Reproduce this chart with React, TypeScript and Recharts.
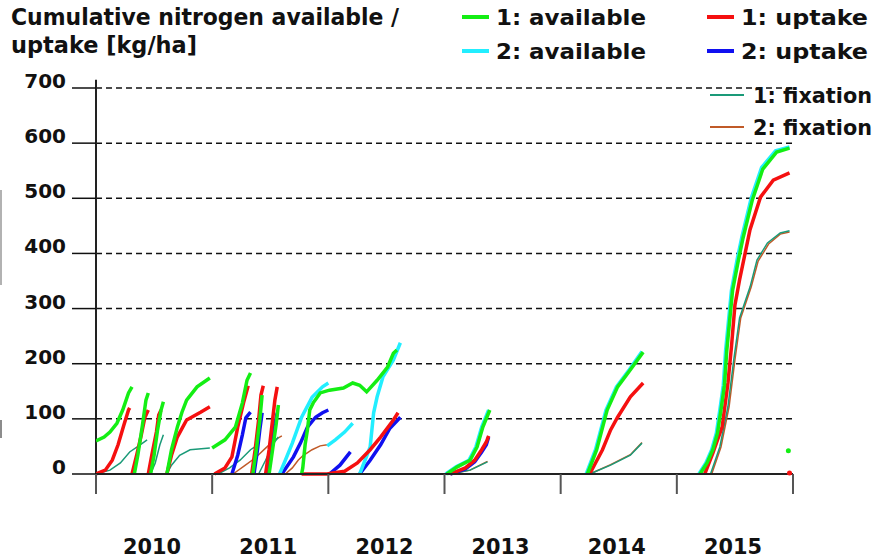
import React from 'react';
import { LineChart, Line, XAxis, YAxis, CartesianGrid, ReferenceLine } from 'recharts';

// each series is a list of segments, each segment a list of [year, kg/ha]
const avail1Segments: number[][][] = [
  [[2010.0, 60], [2010.07, 67], [2010.12, 76], [2010.18, 92], [2010.23, 116], [2010.28, 147], [2010.31, 158]],
  [[2010.33, 0], [2010.36, 34], [2010.4, 89], [2010.43, 134], [2010.45, 147]],
  [[2010.47, 0], [2010.5, 34], [2010.53, 80], [2010.56, 116], [2010.58, 131]],
  [[2010.61, 0], [2010.65, 44], [2010.7, 85], [2010.74, 112], [2010.78, 134], [2010.87, 158], [2010.98, 174]],
  [[2011.0, 47], [2011.11, 62], [2011.2, 85], [2011.26, 129], [2011.3, 170], [2011.33, 183]],
  [[2011.35, 0], [2011.38, 44], [2011.41, 98], [2011.43, 143]],
  [[2011.49, 0], [2011.52, 44], [2011.55, 89], [2011.57, 125]],
  [[2011.77, 0], [2011.78, 11], [2011.8, 53], [2011.82, 80], [2011.84, 116], [2011.87, 129], [2011.93, 147], [2012.01, 152],
    [2012.13, 156], [2012.21, 165], [2012.27, 161], [2012.33, 149], [2012.42, 170], [2012.51, 194], [2012.56, 219], [2012.59, 225]],
  [[2013.02, 0], [2013.11, 13], [2013.22, 25], [2013.28, 49], [2013.33, 85], [2013.39, 116]],
  [[2014.23, 0], [2014.31, 44], [2014.4, 116], [2014.49, 158], [2014.6, 189], [2014.71, 221]],
  [[2015.2, 0], [2015.26, 20], [2015.31, 44], [2015.35, 74], [2015.38, 116], [2015.41, 161], [2015.43, 224], [2015.48, 333],
    [2015.53, 388], [2015.57, 428], [2015.65, 497], [2015.74, 553], [2015.86, 584], [2015.97, 591]],
  [[2015.96, 42]],
];

const uptake1Segments: number[][][] = [
  [[2010.0, 0], [2010.08, 7], [2010.14, 25], [2010.19, 53], [2010.24, 89], [2010.28, 116], [2010.29, 120]],
  [[2010.31, 0], [2010.35, 34], [2010.39, 71], [2010.42, 102], [2010.45, 116]],
  [[2010.45, 0], [2010.48, 34], [2010.52, 76], [2010.54, 107], [2010.56, 116]],
  [[2010.61, 0], [2010.65, 34], [2010.7, 67], [2010.78, 98], [2010.9, 112], [2010.98, 122]],
  [[2011.02, 0], [2011.11, 11], [2011.17, 31], [2011.22, 85], [2011.27, 129], [2011.31, 160]],
  [[2011.34, 0], [2011.37, 44], [2011.4, 98], [2011.42, 143], [2011.44, 160]],
  [[2011.46, 0], [2011.49, 44], [2011.52, 98], [2011.54, 134], [2011.56, 158]],
  [[2011.77, 0], [2011.99, 0], [2012.04, 2], [2012.14, 5], [2012.25, 20], [2012.36, 44], [2012.45, 67], [2012.56, 98], [2012.6, 111]],
  [[2013.05, 0], [2013.18, 11], [2013.26, 25], [2013.32, 44], [2013.36, 58], [2013.38, 69]],
  [[2014.25, 0], [2014.36, 44], [2014.43, 80], [2014.49, 103], [2014.6, 140], [2014.71, 165]],
  [[2015.24, 0], [2015.31, 38], [2015.35, 62], [2015.39, 85], [2015.44, 165], [2015.47, 230], [2015.5, 306], [2015.54, 352],
    [2015.63, 443], [2015.72, 502], [2015.83, 533], [2015.97, 546]],
  [[2015.97, 2]],
];

const fix1Segments: number[][][] = [
  [[2010.0, 0], [2010.12, 7], [2010.21, 20], [2010.29, 40], [2010.38, 53], [2010.44, 62]],
  [[2010.47, 0], [2010.51, 20], [2010.55, 53], [2010.58, 71]],
  [[2010.61, 0], [2010.65, 16], [2010.72, 34], [2010.81, 44], [2010.98, 47]],
  [[2011.05, 0], [2011.15, 11], [2011.24, 25], [2011.33, 44], [2011.38, 51]],
  [[2011.4, 0], [2011.46, 25], [2011.52, 53], [2011.57, 67]],
  [[2013.05, 0], [2013.22, 7], [2013.37, 22]],
  [[2014.25, 0], [2014.43, 16], [2014.6, 34], [2014.7, 56]],
  [[2015.29, 0], [2015.37, 49], [2015.44, 122], [2015.49, 207], [2015.54, 283], [2015.63, 339], [2015.69, 388],
    [2015.78, 419], [2015.89, 437], [2015.97, 441]],
];

const avail2Segments: number[][][] = [
  [[2011.58, 0], [2011.63, 25], [2011.69, 56], [2011.77, 103], [2011.86, 139], [2011.95, 158], [2012.0, 165]],
  [[2011.99, 51], [2012.06, 62], [2012.14, 76], [2012.21, 92]],
  [[2012.27, 0], [2012.36, 49], [2012.39, 111], [2012.42, 140], [2012.47, 176], [2012.56, 207], [2012.62, 238]],
  [[2013.01, 0], [2013.1, 13], [2013.21, 25], [2013.27, 49], [2013.32, 85], [2013.38, 116]],
  [[2014.22, 0], [2014.3, 44], [2014.39, 116], [2014.48, 158], [2014.59, 189], [2014.7, 222]],
  [[2015.19, 0], [2015.25, 20], [2015.3, 44], [2015.34, 74], [2015.37, 116], [2015.4, 161], [2015.42, 224], [2015.47, 333],
    [2015.52, 390], [2015.56, 430], [2015.64, 500], [2015.73, 556], [2015.85, 586], [2015.97, 593]],
];

const uptake2Segments: number[][][] = [
  [[2011.17, 0], [2011.22, 34], [2011.26, 71], [2011.29, 102], [2011.33, 112]],
  [[2011.36, 0], [2011.39, 44], [2011.41, 80], [2011.43, 111]],
  [[2011.48, 0], [2011.51, 44], [2011.53, 80], [2011.56, 111]],
  [[2011.6, 0], [2011.7, 31], [2011.76, 56], [2011.82, 85], [2011.89, 103], [2011.95, 111], [2012.0, 116]],
  [[2012.01, 0], [2012.1, 16], [2012.19, 40]],
  [[2012.27, 0], [2012.36, 25], [2012.45, 53], [2012.53, 83], [2012.62, 103]],
  [[2013.05, 0], [2013.18, 9], [2013.26, 22], [2013.32, 40], [2013.36, 53], [2013.38, 67]],
];

const fix2Segments: number[][][] = [
  [[2011.18, 0], [2011.28, 15], [2011.37, 29], [2011.46, 47], [2011.54, 62], [2011.6, 69]],
  [[2011.63, 0], [2011.69, 11], [2011.74, 25], [2011.78, 33], [2011.86, 44], [2011.93, 51], [2011.99, 53]],
  [[2013.05, 0], [2013.22, 7], [2013.37, 23]],
  [[2014.25, 0], [2014.43, 17], [2014.6, 35], [2014.7, 57]],
  [[2015.3, 0], [2015.38, 49], [2015.45, 122], [2015.5, 207], [2015.55, 283], [2015.64, 339], [2015.7, 386],
    [2015.79, 417], [2015.89, 435], [2015.97, 439]],
];

const yTicks = [0, 100, 200, 300, 400, 500, 600, 700];
const yearTicks = [2010, 2011, 2012, 2013, 2014, 2015, 2016];
const yearMids = [2010.5, 2011.5, 2012.5, 2013.5, 2014.5, 2015.5];
const yearLabels = ['2010', '2011', '2012', '2013', '2014', '2015'];
const xTicks = [...yearTicks, ...yearMids].sort((a, b) => a - b);

const series = [
  { key: 'fix2', name: '2: fixation', color: '#c05a28', width: 1.5, segments: fix2Segments },
  { key: 'fix1', name: '1: fixation', color: '#1a9a78', width: 1.5, segments: fix1Segments },
  { key: 'up2', name: '2: uptake', color: '#1010f0', width: 3.5, segments: uptake2Segments },
  { key: 'av2', name: '2: available', color: '#22eeff', width: 3.5, segments: avail2Segments },
  { key: 'up1', name: '1: uptake', color: '#f51010', width: 3.5, segments: uptake1Segments },
  { key: 'av1', name: '1: available', color: '#14ee14', width: 3.5, segments: avail1Segments },
];

const FONT = "'DejaVu Sans Condensed', 'DejaVu Sans', sans-serif";

const renderYTick = (props: any) => {
  const { x, y, payload } = props;
  return (
    <text x={x} y={y} textAnchor="end" fontFamily="'DejaVu Sans', sans-serif" fontWeight="bold" fontSize={20} fill="#111">
      {payload.value}
    </text>
  );
};

// year boundaries get a tick mark, mid-year positions get the year label
const renderXTick = (props: any) => {
  const { x, y, payload } = props;
  const mid = yearMids.indexOf(payload.value);
  if (mid < 0) {
    return <line x1={x} x2={x} y1={y} y2={y + 20} stroke="#555" strokeWidth={2} />;
  }
  return (
    <text x={x - 2} y={y + 80} textAnchor="middle" fontFamily={FONT} fontWeight="bold" fontSize={22} fill="#111"
      textLength={58} lengthAdjust="spacingAndGlyphs">
      {yearLabels[mid]}
    </text>
  );
};

const legendItems = [
  { name: '1: available', color: '#14ee14', x1: 462, x2: 489, tx: 496, tw: 150, y: 17, w: 4 },
  { name: '2: available', color: '#22eeff', x1: 462, x2: 489, tx: 496, tw: 150, y: 51, w: 4 },
  { name: '1: uptake', color: '#f51010', x1: 707, x2: 734, tx: 741, tw: 127, y: 17, w: 4 },
  { name: '2: uptake', color: '#1010f0', x1: 707, x2: 734, tx: 741, tw: 127, y: 51, w: 4 },
  { name: '1: fixation', color: '#1a9a78', x1: 710, x2: 744, tx: 753, tw: 119, y: 95, w: 2 },
  { name: '2: fixation', color: '#c05a28', x1: 710, x2: 744, tx: 753, tw: 119, y: 127, w: 2 },
];

export default function App() {
  return (
    <div style={{ position: 'absolute', left: 0, top: 0, width: 891, height: 560, background: '#fff' }}>
      <LineChart width={891} height={560} margin={{ top: 88, right: 98, left: 0, bottom: 0 }}>
        <CartesianGrid vertical={false} stroke="#111" strokeWidth={1.5} strokeDasharray="6 4" />
        <XAxis dataKey="t" type="number" domain={[2010, 2016]} ticks={xTicks} allowDataOverflow interval={0}
          height={86} tickSize={0} tickMargin={0} tickLine={false}
          axisLine={{ stroke: '#222', strokeWidth: 2 }} tick={renderXTick} />
        <YAxis type="number" domain={[0, 700]} ticks={yTicks} width={96} tickSize={24} tickMargin={6} interval={0}
          axisLine={false} tickLine={{ stroke: '#111', strokeWidth: 1.5 }} tick={renderYTick} />
        <ReferenceLine segment={[{ x: 2010, y: -35 }, { x: 2010, y: 715 }]} ifOverflow="visible" stroke="#222" strokeWidth={2} />
        {series.map((s) =>
          s.segments.map((seg, i) => (
            <Line
              key={`${s.key}-${i}`}
              data={seg.map(([t, v]) => ({ t, v }))}
              dataKey="v"
              type="linear"
              stroke={s.color}
              strokeWidth={s.width}
              dot={seg.length === 1 ? { r: 2.5, fill: s.color, stroke: 'none' } : false}
              activeDot={false}
              isAnimationActive={false}
              legendType="none"
            />
          ))
        )}
      </LineChart>
      <svg width={891} height={560} style={{ position: 'absolute', left: 0, top: 0, pointerEvents: 'none' }}>
        <text x={11} y={25} fontFamily={FONT} fontWeight="bold" fontSize={23} fill="#111" textLength={388} lengthAdjust="spacingAndGlyphs">
          Cumulative nitrogen available /
        </text>
        <text x={11} y={53} fontFamily={FONT} fontWeight="bold" fontSize={23} fill="#111" textLength={186} lengthAdjust="spacingAndGlyphs">
          uptake [kg/ha]
        </text>
        {legendItems.map((it) => (
          <g key={it.name}>
            <line x1={it.x1} x2={it.x2} y1={it.y} y2={it.y} stroke={it.color} strokeWidth={it.w} />
            <text x={it.tx} y={it.y + 8} fontFamily={FONT} fontWeight="bold" fontSize={22} fill="#111"
              textLength={it.tw} lengthAdjust="spacingAndGlyphs">
              {it.name}
            </text>
          </g>
        ))}
        <line x1={1} x2={1} y1={190} y2={285} stroke="#999" strokeWidth={1.5} />
        <line x1={1} x2={1} y1={420} y2={438} stroke="#666" strokeWidth={1.5} />
      </svg>
    </div>
  );
}
